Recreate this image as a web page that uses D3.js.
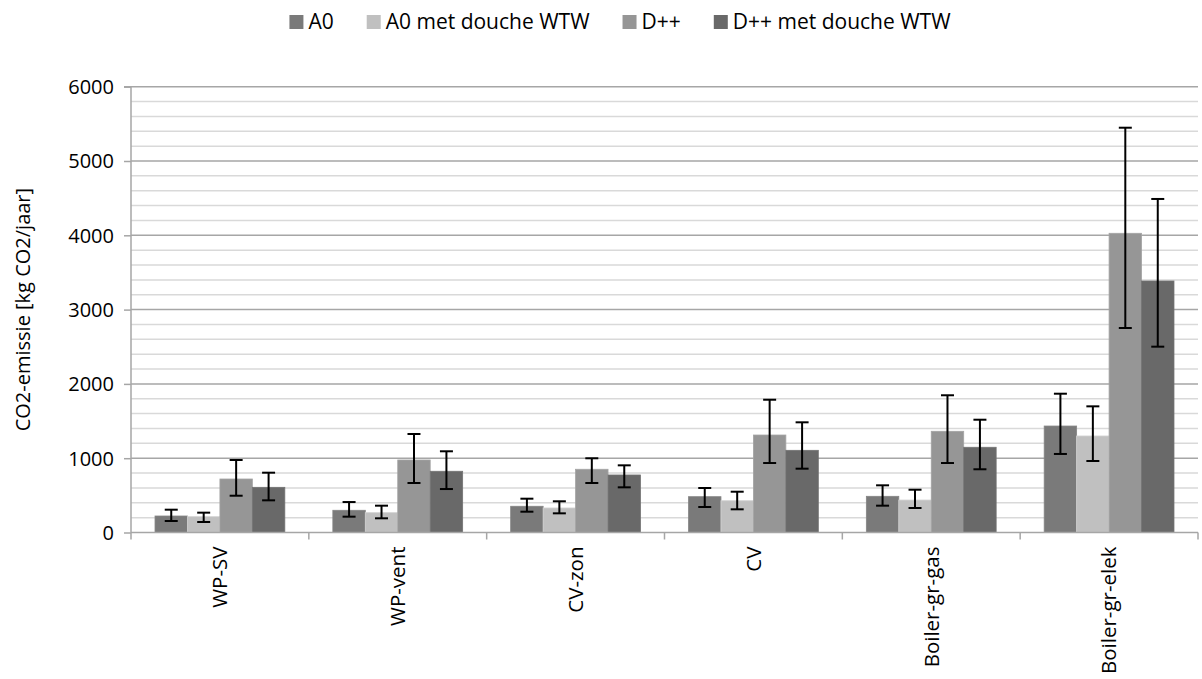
<!DOCTYPE html>
<html><head><meta charset="utf-8">
<script src="https://cdn.jsdelivr.net/npm/d3@7"></script>
<style>body{margin:0;background:#fff}svg{display:block}text{font-family:"Open Sans",sans-serif;fill:#000}</style>
</head><body><svg id="c" width="1202" height="679"></svg>
<script>
const categories = ["WP-SV","WP-vent","CV-zon","CV","Boiler-gr-gas","Boiler-gr-elek"];
const seriesNames = ["A0","A0 met douche WTW","D++","D++ met douche WTW"];
const seriesColors = ["#7a7a7a","#c0c0c0","#969696","#696969"];
const A0      = [222, 299, 353, 482, 487, 1433];
const A0WTW   = [213, 267, 330, 428, 437, 1299];
const Dpp     = [720, 976, 851, 1312, 1362, 4027];
const DppWTW  = [608, 824, 774, 1106, 1147, 3385];
const A0_hi     = [307, 410, 455, 599, 635, 1868];
const A0_lo     = [155, 213, 280, 343, 361, 1057];
const A0WTW_hi  = [267, 361, 420, 549, 576, 1698];
const A0WTW_lo  = [141, 191, 258, 312, 330, 962];
const Dpp_hi    = [976, 1326, 999, 1787, 1847, 5448];
const Dpp_lo    = [495, 666, 666, 935, 935, 2752];
const DppWTW_hi = [805, 1093, 904, 1483, 1518, 4489];
const DppWTW_lo = [433, 585, 608, 859, 851, 2501];
const yTicks = [0,1000,2000,3000,4000,5000,6000];
const yTitle = "CO2-emissie [kg CO2/jaar]";

const values = [A0, A0WTW, Dpp, DppWTW];
const his = [A0_hi, A0WTW_hi, Dpp_hi, DppWTW_hi];
const los = [A0_lo, A0WTW_lo, Dpp_lo, DppWTW_lo];

const svg = d3.select("#c");
const m = {l:131, r:1198, t:86.7, b:532.5};
const x = d3.scaleBand().domain(categories).range([m.l, m.r]).paddingInner(0).paddingOuter(0);
const xs = d3.scaleBand().domain(d3.range(4)).range([0, x.bandwidth()]).paddingInner(0).paddingOuter(0.74);
const y = d3.scaleLinear().domain([0,6000]).range([m.b, m.t]);

// gridlines
const minor = d3.range(200, 6001, 200).filter(v => v % 1000 !== 0);
svg.append("g").selectAll("line").data(minor).join("line")
  .attr("x1", m.l).attr("x2", m.r).attr("y1", d=>y(d)).attr("y2", d=>y(d))
  .attr("stroke", "#d9d9d9").attr("stroke-width", 1.5);
svg.append("g").selectAll("line").data(yTicks.filter(d=>d>0)).join("line")
  .attr("x1", m.l).attr("x2", m.r).attr("y1", d=>y(d)).attr("y2", d=>y(d))
  .attr("stroke", "#a6a6a6").attr("stroke-width", 1.5);

// bars
const g = svg.append("g");
values.forEach((vals, si) => {
  g.append("g").selectAll("rect").data(categories).join("rect")
    .attr("x", (c) => x(c) + xs(si))
    .attr("width", xs.bandwidth())
    .attr("y", (c,i) => y(vals[i]))
    .attr("height", (c,i) => y(0) - y(vals[i]))
    .attr("fill", seriesColors[si])
    .attr("stroke", d3.color(seriesColors[si]).brighter(0.25))
    .attr("stroke-width", 0.8);
});
// error bars
values.forEach((vals, si) => {
  const eg = svg.append("g").attr("stroke", "#000").attr("stroke-width", 2);
  categories.forEach((c, i) => {
    const cx = x(c) + xs(si) + xs.bandwidth()/2;
    eg.append("line").attr("x1", cx).attr("x2", cx).attr("y1", y(his[si][i])).attr("y2", y(los[si][i]));
    [his[si][i], los[si][i]].forEach(v => {
      eg.append("line").attr("x1", cx-6.5).attr("x2", cx+6.5).attr("y1", y(v)).attr("y2", y(v));
    });
  });
});

// axes
const yAxis = d3.axisLeft(y).tickValues(yTicks).tickSize(7).tickPadding(17).tickFormat(d3.format("d"));
const ya = svg.append("g").attr("transform", `translate(${m.l},0)`).call(yAxis);
ya.select(".domain").attr("stroke", "#a6a6a6").attr("stroke-width", 1.5).attr("d", `M-7,${m.t}H0V${m.b}`);
ya.selectAll(".tick line").attr("stroke", "#a6a6a6").attr("stroke-width", 1.5);
ya.selectAll(".tick text").style("font-size", "20px").attr("dy", "0.34em").attr("x", -17);

const xa = svg.append("g").attr("transform", `translate(0,${m.b})`);
xa.append("line").attr("x1", m.l).attr("x2", m.r).attr("stroke", "#a6a6a6").attr("stroke-width", 1.5);
const bounds = categories.map(c => x(c)).concat([m.r]);
xa.selectAll("line.t").data(bounds).join("line").attr("class","t")
  .attr("x1", d=>d).attr("x2", d=>d).attr("y1", 0).attr("y2", 7)
  .attr("stroke", "#a6a6a6").attr("stroke-width", 1.5);
xa.selectAll("text").data(categories).join("text")
  .attr("transform", d => `translate(${x(d)+x.bandwidth()/2},14) rotate(-90)`)
  .attr("text-anchor", "end").attr("dy", "0.36em")
  .style("font-size", "20.5px").text(d=>d);

// y title
svg.append("text").attr("transform", `translate(23,${(m.t+m.b)/2}) rotate(-90)`)
  .attr("text-anchor", "middle").attr("dy", "0.35em").style("font-size", "20px").text(yTitle);

// legend
const lg = svg.append("g").attr("transform", "translate(0,22)");
const items = [];
seriesNames.forEach((n,i) => {
  const it = lg.append("g");
  it.append("rect").attr("x", 0).attr("y", -7).attr("width", 14).attr("height", 14).attr("fill", seriesColors[i]);
  const t = it.append("text").attr("x", 19).attr("dy", "0.35em").style("font-size", "21px").text(n);
  items.push({it, w: 19 + t.node().getComputedTextLength()});
});
const spacing = 33;
const total = d3.sum(items, d=>d.w) + spacing*(items.length-1);
let cx = 620 - total/2;
items.forEach(d => { d.it.attr("transform", `translate(${cx},0)`); cx += d.w + spacing; });
</script></body></html>
